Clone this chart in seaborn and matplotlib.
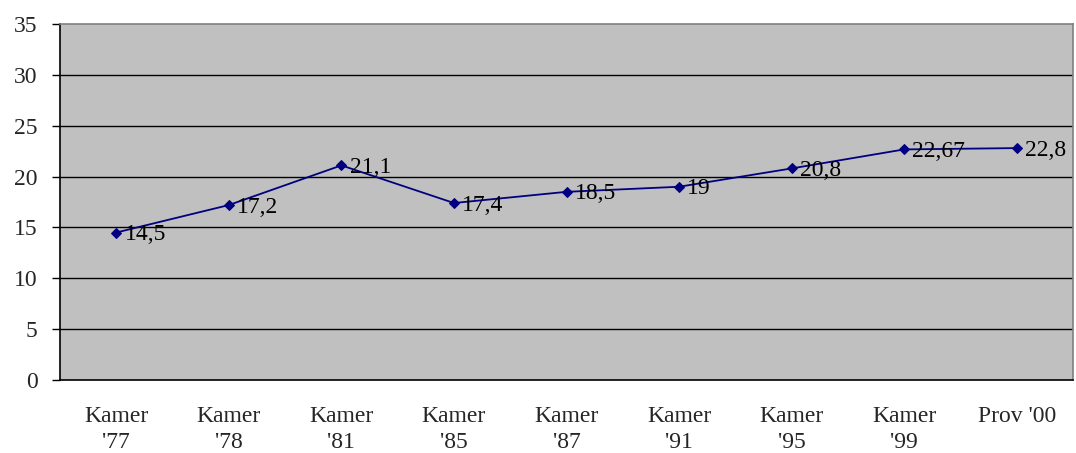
import matplotlib
matplotlib.use("Agg")
import matplotlib.pyplot as plt
import pandas as pd
import seaborn as sns

categories = ["Kamer\n'77", "Kamer\n'78", "Kamer\n'81", "Kamer\n'85", "Kamer\n'87",
              "Kamer\n'91", "Kamer\n'95", "Kamer\n'99", "Prov '00"]
values = [14.5, 17.2, 21.1, 17.4, 18.5, 19, 20.8, 22.67, 22.8]
value_labels = ["14,5", "17,2", "21,1", "17,4", "18,5", "19", "20,8", "22,67", "22,8"]
y_ticks = [0, 5, 10, 15, 20, 25, 30, 35]

sns.set_style("white")
plt.rcParams["font.family"] = ["Liberation Serif", "DejaVu Serif"]

df = pd.DataFrame({"pos": range(len(categories)), "value": values})

fig = plt.figure(figsize=(10.76, 4.53), dpi=100)
ax = fig.add_axes([60 / 1076, 1 - 380 / 453, 1013 / 1076, 356 / 453])
ax.set_facecolor("#C0C0C0")

for y in y_ticks[1:-1]:
    ax.axhline(y, color="black", linewidth=1, zorder=1)

sns.lineplot(data=df, x="pos", y="value", ax=ax, color="#000080", linewidth=1.3,
             marker="D", markersize=5.5, markeredgecolor="#000080", zorder=3)

for i, (v, lab) in enumerate(zip(values, value_labels)):
    ax.annotate(lab, (i, v), xytext=(6, -1.5), textcoords="offset points",
                ha="left", va="center", fontsize=17, color="black", zorder=4)

ax.set_xlim(-0.5, len(categories) - 0.5)
ax.set_ylim(0, 35)
ax.set_yticks(y_ticks)
ax.set_yticklabels([str(t) for t in y_ticks], fontsize=17)
ax.set_xticks(range(len(categories)))
ax.set_xticklabels(categories, fontsize=17, linespacing=1.3)
ax.set_xticks([i - 0.5 for i in range(len(categories) + 1)], minor=True)
ax.tick_params(axis="x", which="major", length=0, pad=19)
ax.tick_params(axis="x", which="minor", length=6, width=1, color="black", direction="out")
ax.tick_params(axis="y", length=6, width=1, color="black", direction="out", left=True, pad=10)
ax.set_xlabel("")
ax.set_ylabel("")

ax.spines["left"].set_color("black")
ax.spines["bottom"].set_color("black")
ax.spines["top"].set_color("#808080")
ax.spines["right"].set_color("#808080")
for s in ax.spines.values():
    s.set_linewidth(1.2)

fig.savefig("out.png", dpi=100, facecolor="white")
